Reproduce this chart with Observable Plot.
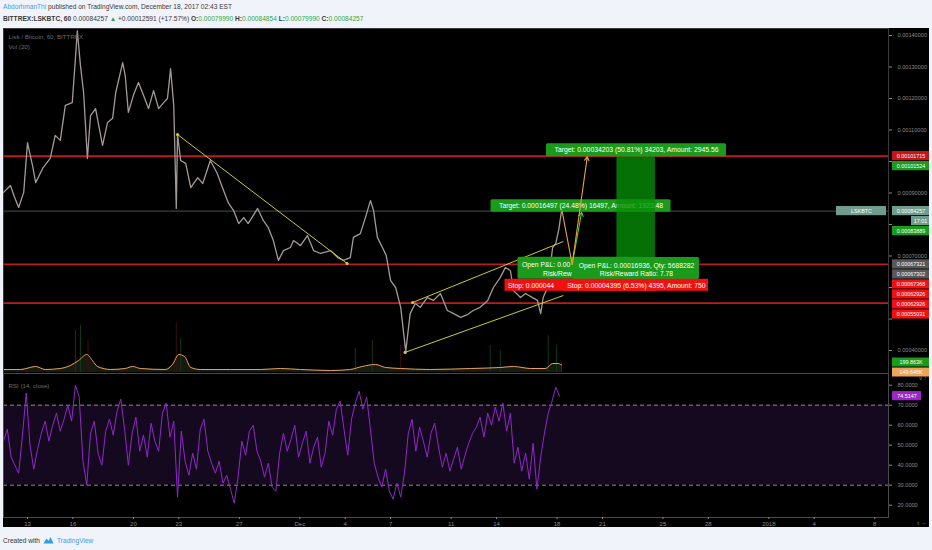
<!DOCTYPE html>
<html>
<head>
<meta charset="utf-8">
<script src="https://cdn.jsdelivr.net/npm/d3@7"></script>
<script src="https://cdn.jsdelivr.net/npm/@observablehq/plot@0.6"></script>
<style>
html,body{margin:0;padding:0;background:#f0f3fa;}
body{font-family:"Liberation Sans",Arial,sans-serif;}
#wrap{position:relative;width:932px;height:550px;overflow:hidden;background:#f0f3fa;}
.hdr{position:absolute;left:3px;white-space:nowrap;font-size:6.6px;color:#3a3a3a;}
.g{color:#2fa84a}
#chart{position:absolute;left:3px;top:28px;width:926px;height:499px;background:#000;}
#chart svg{position:absolute;left:0;overflow:visible;}
#foot{position:absolute;left:3px;top:536px;font-size:6.6px;color:#333;white-space:nowrap;display:flex;align-items:center;gap:3px}
</style>
</head>
<body>
<div id="wrap">
  <div class="hdr" id="h1" style="top:3px"></div>
  <div class="hdr" id="h2" style="top:15px"></div>
  <div id="chart"></div>
  <div id="foot"><span>Created with</span>
    <svg width="11" height="8" viewBox="0 0 11 8"><path d="M0.5 7.5 L3.5 2.5 L5.5 5 L7.5 1 L10.5 7.5 Z" fill="#2f9ee8"/></svg>
    <span style="color:#3d9be9">TradingView</span></div>
</div>
<script>
// ---------- header values ----------
const author = "AbdorhmanThi";
const published = "published on TradingView.com, December 18, 2017 02:43 EST";
const symbol = "BITTREX:LSKBTC, 60";
const lastClose = 0.00084257;
const change = "+0.00012591 (+17.57%)";
const ohlcNames = ["O:", "H:", "L:", "C:"];
const ohlcValues = ["0.00079990", "0.00084854", "0.00079990", "0.00084257"];

// ---------- price (hourly chart, traced) ----------
const priceTime = ["11-11T10","11-11T21","11-12T03","11-12T10","11-12T18","11-13T00","11-13T08","11-13T13","11-14T00","11-14T12",
"11-14T20","11-15T04","11-15T12","11-15T23","11-16T04","11-16T07","11-16T12","11-16T17","11-16T23","11-17T04",
"11-17T12","11-17T23","11-18T07","11-18T15","11-18T20","11-19T07","11-19T11","11-19T16","11-20T00","11-20T08",
"11-20T16","11-21T00","11-21T08","11-21T16","11-22T00","11-22T06","11-22T11","11-22T16","11-22T20","11-22T22",
"11-23T03","11-23T11","11-23T19","11-24T06","11-24T14","11-25T02","11-25T13","11-25T23","11-26T07","11-26T15",
"11-26T23","11-27T07","11-27T14","11-28T05","11-28T14","11-28T22","11-29T06","11-29T14","11-29T22","11-30T09",
"11-30T14","12-01T01","12-01T12","12-01T22","12-02T09","12-03T01","12-03T12","12-03T21","12-04T08","12-04T13",
"12-05T00","12-05T08","12-05T16","12-05T21","12-06T03","12-06T11","12-06T17","12-07T00","12-07T08","12-07T16",
"12-08T00","12-08T07","12-08T15","12-08T23","12-09T10","12-09T20","12-10T07","12-10T18","12-11T04","12-11T15",
"12-12T02","12-12T11","12-12T22","12-13T10","12-13T19","12-14T06","12-14T14","12-14T22","12-15T03","12-15T14",
"12-15T22","12-16T09","12-16T17","12-16T22","12-17T02","12-17T09","12-17T17","12-17T22","12-18T03","12-18T07"];
const priceClose = [0.000902,0.000924,0.000889,0.000854,0.000902,0.001060,0.000987,0.000933,0.000978,0.001010,
0.001083,0.001067,0.001178,0.001187,0.001327,0.001415,0.001305,0.001219,0.001010,0.001146,
0.001168,0.001051,0.001124,0.001137,0.001219,0.001314,0.001273,0.001156,0.001210,0.001251,
0.001210,0.001168,0.001225,0.001168,0.001187,0.001200,0.001295,0.001178,0.000851,0.001086,
0.001003,0.000994,0.000917,0.000949,0.000930,0.001003,0.000962,0.000908,0.000867,0.000844,
0.000803,0.000822,0.000803,0.000851,0.000813,0.000790,0.000749,0.000686,0.000717,0.000727,
0.000749,0.000733,0.000765,0.000717,0.000708,0.000717,0.000695,0.000686,0.000695,0.000759,
0.000771,0.000822,0.000876,0.000844,0.000759,0.000727,0.000702,0.000622,0.000600,0.000537,
0.000397,0.000517,0.000549,0.000537,0.000568,0.000559,0.000581,0.000527,0.000517,0.000505,
0.000514,0.000527,0.000537,0.000559,0.000600,0.000632,0.000663,0.000654,0.000590,0.000568,
0.000581,0.000568,0.000559,0.000517,0.000568,0.000600,0.000727,0.000740,0.000787,0.00084257];

// horizontal levels
const redLevels = [0.00101715, 0.00067368, 0.00055031];
const priceTicks = [0.0004,0.0005,0.0006,0.0007,0.0008,0.0009,0.0010,0.0011,0.0012,0.0013,0.0014];

// trend lines (yellow)
const trendStart = ["11-22T22","12-08T11","12-07T23"];
const trendStartPrice = [0.0010857,0.0005524,0.000394];
const trendEnd = ["12-04T03","12-18T10","12-18T10"];
const trendEndPrice = [0.000676,0.000746,0.0005746];

// long position tools
const toolCenter = ["12-19T14","12-23T06"];
const toolStart2 = "12-21T23", toolEnd2 = "12-24T12";
const toolEntry = [0.00067392, 0.00067315];
const toolTarget = [0.00083889, 0.00101524];
const toolStop = [0.00062926, 0.00062926];
const toolTargetText = ["Target: 0.00016497 (24.48%) 16497, Amount: 1923.48",
                        "Target: 0.00034203 (50.81%) 34203, Amount: 2945.56"];
const tool2PnlText = "Open P&L: 0.00016936, Qty: 5688282\nRisk/Reward Ratio: 7.78";
const tool2StopText = "Stop: 0.00004395 (6.53%) 4395, Amount: 750";
const tool1PnlVisible = ["Open P&L: 0.00", "Risk/Rew"];
const tool1StopVisible = "Stop: 0.000044";

// projection arrows
const orangePathTime = ["12-18T08","12-19T00"];
const orangePathPrice = [0.00084257, 0.00067315];
const orangeArrow = {t1:"12-19T00", p1:0.00067315, t2:"12-20T00", p2:0.00101524};
const greenArrow  = {t1:"12-19T00", p1:0.00067315, t2:"12-19T15", p2:0.00083889};

// right-axis price labels (in TradingView stacking order)
const axisLabelText  = ["0.00101715","0.00101524","0.00084257","17:01","0.00083889","0.00067321","0.00067302","0.00067368","0.00062926","0.00062926","0.00055031"];
const axisLabelValue = [0.00101715,0.00101524,0.00084257,0.00084257,0.00083889,0.00067321,0.00067302,0.00067368,0.00062926,0.00062926,0.00055031];
const axisLabelColor = ["#c81414","#1b9b1b","#6f9c8d","#6f9c8d","#1b9b1b","#585858","#585858","#f01212","#f01212","#f01212","#f01212"];

// volume (K)
const volMATime = ["11-11T10","11-12T13","11-13T13","11-14T04","11-15T04","11-15T20","11-16T09","11-16T22","11-17T07","11-17T15",
"11-18T12","11-19T11","11-19T23","11-20T11","11-22T03","11-22T14","11-23T00","11-23T09","11-23T19","11-24T10",
"11-26T10","11-28T10","11-29T17","12-01T01","12-03T01","12-04T08","12-05T03","12-06T00","12-06T16","12-07T16",
"12-09T15","12-12T07","12-14T06","12-15T03","12-16T06","12-17T06","12-17T17","12-18T02","12-18T07"];
const volMAValue = [60,60,120,60,80,140,240,360,240,120,60,80,120,80,60,160,360,320,100,60,60,60,80,60,40,60,120,160,100,80,60,80,100,120,80,80,180,180,149.646];
const volSpikeTime = ["11-16T04","11-16T12","11-17T00","11-22T20","11-23T03","12-04T16","12-05T19","12-07T16","12-13T14","12-14T06","12-17T10","12-17T23","12-18T07"];
const volSpikeValue = [840,940,640,1000,680,480,640,540,540,440,740,540,199.863];
const volSpikeUp = [1,1,0,0,1,1,1,0,1,1,1,1,1];
const volLabelText = ["199.863K","149.646K"];
const volLabelValue = [199.863,149.646];
const volLabelColor = ["#1b9b1b","#f0a45a"];

// RSI (14), every 6 hours from Nov 11 10:00
const rsiStart = "11-11T10";
const rsiValues = [52,58,44,40,36, 55,76, 50,38,48, 56,62,52,60,66,57,63,70,62, 80,74, 42,30,56,
62,46,40,57,63,55,67, 73,58, 40,56,64,47,55,44,61,52,47,66,71,54,62, 24, 57,42,35,46,38,
58,63,47,41, 36,42,31,35,28,21,34, 52,45,57,60,47,42, 34,41,29,27,46,
56,47,53,60,44,51,57,41,49,54,39,46,62,55,68,72,58,45, 63,71,77,68,74,58,
41,34,29,38,27,23,31,24,36, 56,63,47,59,52,44,56,61,49, 39,46,37,43,49,38,45,51,
56,59,64,54,66,60,69,62,71,57,66, 41,49,37,46,33,51,28,44,56, 66,72,79,74.5147];
const rsiBand = [30,70];
const rsiTicks = [20,30,40,50,60,70,80];

// time axis
const timeTicks = ["2017-11-13","2017-11-16","2017-11-20","2017-11-23","2017-11-27","2017-12-01","2017-12-04","2017-12-07",
"2017-12-11","2017-12-14","2017-12-18","2017-12-21","2017-12-25","2017-12-28","2018-01-01","2018-01-04","2018-01-08"];
const timeLabels = ["13","16","20","23","27","Dec","4","7","11","14","18","21","25","28","2018","4","8"];

// ---------- helpers ----------
const T = s => new Date(`2017-${s}:00Z`);

// header
document.getElementById("h1").innerHTML =
  `<span style="color:#4a9fe0">${author}</span> ${published}`;
document.getElementById("h2").innerHTML =
  `<b>${symbol}</b> ${lastClose.toFixed(8)} <span class="g">&#9650;</span> ${change} ` +
  ohlcNames.map((n,i)=>`<b>${n}</b><span class="g">${ohlcValues[i]}</span>`).join(" ");

// layout (page pixels -> scales)
const W = 926, PW = 885, PH = 345, RH = 154, RB = 144;
const dayPx = 15.13;
const anchor = Date.UTC(2017,10,13);
const xStart = new Date(anchor - 24/dayPx*864e5);
const xEnd = new Date(anchor + (PW-24)/dayPx*864e5);
const xScale = {type:"utc", domain:[xStart,xEnd], range:[0,PW]};
const pxPerPrice = 315000;
const yDomain = [0.0004 - (PH-322)/pxPerPrice, 0.0004 + 322/pxPerPrice];
const yPx = d3.scaleLinear(yDomain, [PH,0]);
const style = {background:"transparent", fontFamily:"Liberation Sans, Arial, sans-serif", fontSize:"5.6px", color:"#8a8a8a", overflow:"visible"};
const LBL = 5.4;   // font size of the axis tags
const GAP = 10;    // stacking distance of axis tags

const priceData = priceTime.map((t,i)=>({t:T(t), c:priceClose[i]}));
const trends = trendStart.map((t,i)=>({t1:T(t), p1:trendStartPrice[i], t2:T(trendEnd[i]), p2:trendEndPrice[i]}));
const trendDots = [{t:trends[0].t1,p:trends[0].p1},{t:trends[0].t2,p:trends[0].p2},{t:trends[2].t1,p:trends[2].p1},{t:trends[1].t1,p:trends[1].p1}];

// stacked right-axis labels
function stack(values, pxFn, gap){
  let prev = -Infinity;
  return values.map(v => { const y = Math.max(pxFn(v), prev + gap); prev = y; return y; });
}
const axisPy = stack(axisLabelValue, yPx, GAP);
const axisLabels = axisLabelText.map((s,i)=>({text:s, v:yPx.invert(axisPy[i]), color:axisLabelColor[i], narrow: s.includes(":")}));
// tick labels hidden under a price tag, as TradingView does
const visibleTicks = priceTicks.filter(t => axisPy.every(py => Math.abs(py - yPx(t)) >= 7.5));

const tools = toolCenter.map((c,i)=>({t:T(c), entry:toolEntry[i], target:toolTarget[i], stop:toolStop[i], ttext:toolTargetText[i]}));
const tool1 = [tools[0]], tool2 = [tools[1]];
const green = "#1b9b1b", red = "#f01212";

// ---------- volume overlay ----------
const volYPx = d3.scaleLinear([0, (PH-1)*20], [PH-1, 0]);
const volPy = stack(volLabelValue, volYPx, GAP);
const volLabels = volLabelText.map((s,i)=>({text:s, v:volYPx.invert(volPy[i]), color:volLabelColor[i]}));
const volMA = volMATime.map((t,i)=>({t:T(t), v:volMAValue[i]}));
const volSpikes = volSpikeTime.map((t,i)=>({t:T(t), v:volSpikeValue[i], up:volSpikeUp[i]}));

const volPlot = Plot.plot({
  width: W, height: PH, margin: 0, marginRight: W-PW, style,
  x: {...xScale, axis: null},
  y: {domain: volYPx.domain(), range: volYPx.range(), axis: null},
  marks: [
    Plot.areaY(volMA, {x:"t", y:"v", fill:"#171a0e"}),
    Plot.ruleX(volSpikes, {x:"t", y1:0, y2:"v", stroke:d=>d.up?"#0f3a18":"#3d1010", strokeWidth:1}),
    Plot.line(volMA, {x:"t", y:"v", stroke:"#e8a060", strokeWidth:1, curve:"monotone-x"}),
    Plot.rect(volLabels, {x1:()=>xEnd, x2:()=>xEnd, y1:"v", y2:"v", insetLeft:4, insetRight:-41, insetTop:-4.5, insetBottom:-4.5, fill:"color"}),
    Plot.text(volLabels, {x:()=>xEnd, y:"v", text:"text", dx:22.5, fill:"white", fontSize:LBL})
  ]
});

// ---------- price pane ----------
const pricePlot = Plot.plot({
  width: W, height: PH, margin: 0, marginRight: W-PW, style,
  x: {...xScale, axis: null},
  y: {domain: yDomain, range: [PH,0], axis: null},
  marks: [
    Plot.frame({stroke:"#3a3a3a"}),
    Plot.ruleY([lastClose], {stroke:"#46514c", strokeWidth:1}),
    Plot.ruleY(redLevels, {stroke:"#c01a1e", strokeWidth:1.6}),
    Plot.line(priceData, {x:"t", y:"c", stroke:"#a39a98", strokeWidth:1.3}),
    Plot.link(trends, {x1:"t1", y1:"p1", x2:"t2", y2:"p2", stroke:"#cbcb2e", strokeWidth:1}),
    Plot.dot(trendDots, {x:"t", y:"p", r:1.6, fill:"#cbcb2e"}),
    // pane titles
    Plot.text(["Lisk / Bitcoin, 60, BITTREX"], {frameAnchor:"top-left", dx:5, dy:6, fill:"#6d6d6d", fontSize:6.2, textAnchor:"start"}),
    Plot.text(["Vol (20)"], {frameAnchor:"top-left", dx:5, dy:16, fill:"#6d6d6d", fontSize:6.2, textAnchor:"start"}),
    // tool 1 labels (partly covered by tool 2)
    Plot.rect(tool1, {x1:"t", x2:"t", y1:"target", y2:"target", insetLeft:-90, insetRight:-90, insetTop:-12.5, insetBottom:0, fill:green, rx:1.5}),
    Plot.text(tool1, {x:"t", y:"target", text:"ttext", dy:-6.2, fill:"white", fontSize:6.8}),
    Plot.rect(tool1, {x1:"t", x2:"t", y1:"entry", y2:"entry", insetLeft:-63, insetRight:-63, insetTop:-7, insetBottom:-15, fill:green, rx:1.5}),
    Plot.text(tool1, {x:"t", y:"entry", text:()=>tool1PnlVisible[0], dx:-59, dy:0.5, textAnchor:"start", fill:"white", fontSize:6.8}),
    Plot.text(tool1, {x:"t", y:"entry", text:()=>tool1PnlVisible[1], dx:-38, dy:9.5, textAnchor:"start", fill:"white", fontSize:6.8}),
    Plot.rect(tool1, {x1:"t", x2:"t", y1:"stop", y2:"stop", insetLeft:-76, insetRight:-76, insetTop:1, insetBottom:-13, fill:red}),
    Plot.text(tool1, {x:"t", y:"stop", text:()=>tool1StopVisible, dx:-73, dy:7.2, textAnchor:"start", fill:"white", fontSize:6.8}),
    // tool 2 zones
    Plot.rect(tool2, {x1:()=>T(toolStart2), x2:()=>T(toolEnd2), y1:"entry", y2:"stop", fill:"#b00000", fillOpacity:0.75}),
    Plot.rect(tool2, {x1:()=>T(toolStart2), x2:()=>T(toolEnd2), y1:"entry", y2:"target", fill:"#069006", fillOpacity:0.78}),
    // tool 2 labels
    Plot.rect(tool2, {x1:"t", x2:"t", y1:"target", y2:"target", insetLeft:-90, insetRight:-90, insetTop:-13, insetBottom:0, fill:green, rx:1.5}),
    Plot.text(tool2, {x:"t", y:"target", text:"ttext", dy:-6.5, fill:"white", fontSize:6.8}),
    Plot.rect(tool2, {x1:"t", x2:"t", y1:"entry", y2:"entry", insetLeft:-63, insetRight:-63, insetTop:-7, insetBottom:-15, fill:green, rx:1.5}),
    Plot.text(tool2, {x:"t", y:"entry", text:()=>tool2PnlText, dy:4.8, fill:"white", fontSize:6.8, lineHeight:1.3}),
    Plot.rect(tool2, {x1:"t", x2:"t", y1:"stop", y2:"stop", insetLeft:-72, insetRight:-72, insetTop:1, insetBottom:-13, fill:red}),
    Plot.text(tool2, {x:"t", y:"stop", text:()=>tool2StopText, dy:7.2, fill:"white", fontSize:6.8}),
    // projection arrows
    Plot.line(orangePathTime.map((t,i)=>({t:T(t), p:orangePathPrice[i]})), {x:"t", y:"p", stroke:"#e9a13a", strokeWidth:1.1}),
    Plot.arrow([greenArrow], {x1:d=>T(d.t1), y1:"p1", x2:d=>T(d.t2), y2:"p2", stroke:"#58c23a", strokeWidth:1.1, headLength:6}),
    Plot.arrow([orangeArrow], {x1:d=>T(d.t1), y1:"p1", x2:d=>T(d.t2), y2:"p2", stroke:"#e9a13a", strokeWidth:1.1, headLength:6}),
    // right price axis
    Plot.axisY(priceTicks, {anchor:"right", tickFormat:null, text:null, tickSize:3, color:"#8a8a8a"}),
    Plot.axisY(visibleTicks, {anchor:"right", tickFormat:d=>d.toFixed(8), tickSize:0, tickPadding:9, color:"#8a8a8a", fontSize:5.6}),
    Plot.rect(axisLabels.filter(d=>!d.narrow), {x1:()=>xEnd, x2:()=>xEnd, y1:"v", y2:"v", insetLeft:4, insetRight:-41, insetTop:-4.6, insetBottom:-4.6, fill:"color"}),
    Plot.text(axisLabels.filter(d=>!d.narrow), {x:()=>xEnd, y:"v", text:"text", dx:22.5, fill:"white", fontSize:LBL}),
    Plot.rect(axisLabels.filter(d=>d.narrow), {x1:()=>xEnd, x2:()=>xEnd, y1:"v", y2:"v", insetLeft:23, insetRight:-41, insetTop:-4.6, insetBottom:-4.6, fill:"color"}),
    Plot.text(axisLabels.filter(d=>d.narrow), {x:()=>xEnd, y:"v", text:"text", dx:32, fill:"white", fontSize:LBL}),
    // symbol tag
    Plot.rect([lastClose], {x1:()=>xEnd, x2:()=>xEnd, y1:d=>d, y2:d=>d, insetLeft:-52, insetRight:2, insetTop:-4.6, insetBottom:-4.6, fill:"#6f9c8d"}),
    Plot.text(["LSKBTC"], {x:()=>xEnd, y:()=>lastClose, text:d=>d, dx:-27, fill:"white", fontSize:LBL})
  ]
});

// ---------- RSI pane ----------
const rsiStartDate = T(rsiStart);
const rsiData = rsiValues.map((v,i)=>({t:d3.utcHour.offset(rsiStartDate, 6*i), v}));
const rsiDomain = [50 - (RB-71.7)/2, 50 + 71.7/2];
const tickMap = new Map(timeTicks.map((s,i)=>[+new Date(s+"T00:00Z"), timeLabels[i]]));
const rsiPlot = Plot.plot({
  width: W, height: RH, marginLeft: 0, marginTop: 0, marginRight: W-PW, marginBottom: RH-RB, style,
  x: {...xScale, axis: null},
  y: {domain: rsiDomain, range: [RB,0], axis: null},
  marks: [
    Plot.rect([rsiBand], {x1:()=>xStart, x2:()=>xEnd, y1:d=>d[0], y2:d=>d[1], fill:"#150920"}),
    Plot.ruleY(rsiBand, {stroke:"#8c8c8c", strokeDasharray:"4,3", strokeWidth:1}),
    Plot.line(rsiData, {x:"t", y:"v", stroke:"#9028c8", strokeWidth:1}),
    Plot.frame({stroke:"#4a4a4a"}),
    Plot.text(["RSI (14, close)"], {frameAnchor:"top-left", dx:5, dy:10, fill:"#6d6d6d", fontSize:6.2, textAnchor:"start"}),
    Plot.axisY(rsiTicks, {anchor:"right", tickFormat:d=>d.toFixed(4), tickSize:3, tickPadding:6, color:"#8a8a8a", fontSize:5.6}),
    Plot.axisX(timeTicks.map(s=>new Date(s+"T00:00Z")), {anchor:"bottom", tickFormat:d=>tickMap.get(+d), tickSize:2, tickPadding:2, color:"#8a8a8a", fontSize:6}),
    Plot.rect([rsiValues[rsiValues.length-1]], {x1:()=>xEnd, x2:()=>xEnd, y1:d=>d, y2:d=>d, insetLeft:4, insetRight:-33, insetTop:-4.6, insetBottom:-4.6, fill:"#9c27c4"}),
    Plot.text([rsiValues[rsiValues.length-1]], {x:()=>xEnd, y:d=>d, text:d=>d.toFixed(4), dx:18.5, fill:"white", fontSize:LBL})
  ]
});

const chart = document.getElementById("chart");
volPlot.style.top = "0px";
pricePlot.style.top = "0px";
rsiPlot.style.top = PH + "px";
chart.append(volPlot, pricePlot, rsiPlot);
</script>
</body>
</html>
